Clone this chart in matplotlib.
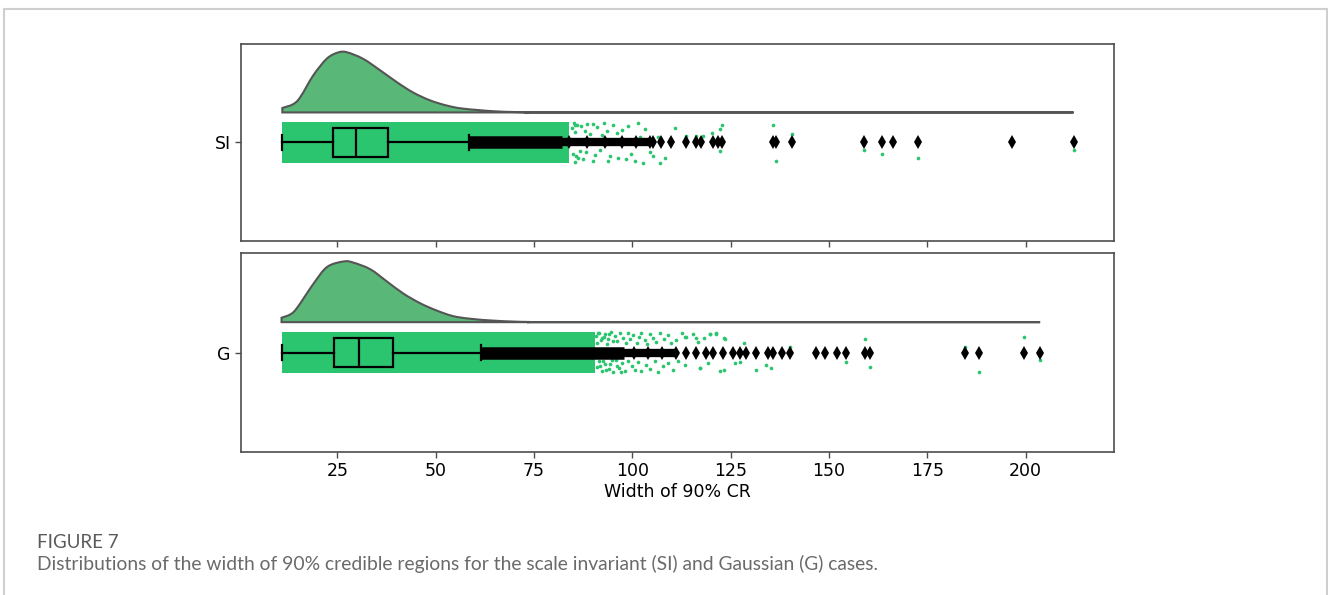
import numpy as np
import matplotlib.pyplot as plt
from matplotlib.patches import Rectangle, PathPatch
from matplotlib.path import Path

# ---- data ----
labels = ['SI', 'G']

# half-violin (relative density, peak = 1)
kde_x_si = [11.0, 14.8, 18.9, 22.4, 25.3, 27.5, 31.6, 35.9, 40.2, 44.3, 48.6, 52.8, 57.0, 65.5, 74.0, 90.0, 212.2]
kde_d_si = [0.074, 0.19, 0.62, 0.90, 1.0, 1.0, 0.89, 0.70, 0.50, 0.33, 0.20, 0.115, 0.063, 0.017, 0.003, 0.0, 0.0]
kde_x_g = [10.8, 13.1, 14.8, 19.0, 22.4, 26.6, 29.1, 33.4, 37.6, 41.8, 46.1, 50.3, 54.4, 58.8, 65.5, 74.0, 90.0, 203.7]
kde_d_g = [0.073, 0.13, 0.24, 0.64, 0.91, 1.0, 0.98, 0.87, 0.67, 0.47, 0.31, 0.19, 0.10, 0.056, 0.022, 0.003, 0.0, 0.0]

# box statistics
box_si = dict(whislo=11.0, q1=23.8, med=29.8, q3=37.8, whishi=58.5)
box_g = dict(whislo=10.8, q1=24.2, med=30.6, q3=39.1, whishi=61.5)

# crowded flier runs (start, end) and the single fliers beyond them
flier_runs_si = [(58.5, 82.0), (82.0, 104.4)]
fliers_si = [84.0, 88.5, 93.0, 97.5, 101.0, 104.4, 105.3, 107.4, 109.9, 113.7, 116.3, 117.5,
             120.5, 121.8, 122.9, 135.7, 136.6, 140.6, 158.8, 163.4, 166.3, 172.7, 196.6, 212.2]
flier_runs_g = [(61.5, 98.0), (98.0, 111.2)]
fliers_g = [100.5, 104.0, 107.5, 111.2, 113.7, 116.3, 118.8, 120.5, 123.0, 125.6, 127.3, 129.0,
            131.5, 134.5, 135.7, 138.1, 140.2, 146.6, 149.0, 152.1, 154.4, 159.2, 160.5,
            184.7, 188.1, 199.5, 203.7]

# rain: solid block of points plus the sparse points in its tail
rain_block_si = (11.0, 84.0)
rain_x_si = [84.6, 85.1, 85.5, 86.0, 84.8, 85.3, 86.2, 86.8,
             85.4, 86.9, 88.4, 89.9, 85.8, 87.4, 90.1, 92.2, 93.5, 95.1, 97.3, 99.0, 101.5,
             94.3, 93.9, 96.4, 98.5, 100.6, 102.7, 101.9, 104.4, 105.3, 107.0, 108.2, 106.6,
             110.8, 113.7, 116.3, 118.0, 120.3, 122.2, 122.9, 122.2,
             87.9, 89.2, 91.0, 92.8, 88.1, 90.6, 91.7, 96.0, 99.6, 103.3,
             135.7, 136.6, 140.6, 158.8, 163.4, 172.7, 212.2]
rain_y_si = [0.15, 0.20, 0.11, 0.18, -0.12, -0.20, -0.16, -0.09,
             0.18, 0.17, 0.19, 0.19, -0.14, -0.17, -0.19, 0.08, 0.12, 0.18, 0.13, 0.17, 0.20,
             -0.14, -0.19, -0.16, -0.17, -0.19, -0.21, 0.06, -0.10, -0.14, -0.21, -0.16, 0.06,
             0.15, 0.07, 0.07, 0.07, 0.10, 0.14, 0.18, -0.09,
             0.12, 0.09, 0.16, 0.20, -0.10, -0.13, -0.08, 0.10, -0.12, 0.14,
             0.18, -0.19, 0.09, -0.08, -0.12, -0.16, -0.08]
rain_block_g = (10.8, 90.5)
rain_x_g = [91.3, 92.2, 93.0, 93.9, 94.7, 95.6, 96.1, 96.8, 97.7, 98.3, 98.9, 99.5, 100.2,
            101.1, 101.7, 102.3, 103.2, 103.8, 104.4, 105.3, 106.1, 107.0, 108.0, 109.1,
            109.9, 111.2, 112.7, 113.7, 115.4, 116.7, 118.1, 119.7, 121.4, 123.5,
            91.7, 92.6, 93.4, 94.3, 95.0, 95.8, 96.7, 97.5, 98.1, 98.9, 99.8, 100.6, 101.5,
            102.3, 103.4, 104.4, 105.7, 106.6, 107.8, 109.1, 110.4, 111.6, 113.3, 117.1, 122.2,
            117.1, 119.2, 123.2, 126.0, 127.3, 123.3, 121.4, 119.7, 116.3, 113.3,
            90.8, 91.1, 91.6, 92.0, 92.9, 93.6, 94.1, 95.2, 90.9, 91.4, 92.3, 93.1, 94.0, 94.9, 96.2, 97.1,
            128.5, 131.5, 134.0, 135.2, 140.2, 154.4, 159.1, 160.5, 184.7, 188.1, 199.5, 203.7]
rain_y_g = [0.20, 0.149, 0.183, 0.132, 0.206, 0.166, 0.115, 0.193, 0.149, 0.098, 0.20, 0.132, 0.173,
            0.098, 0.159, 0.20, 0.125, 0.081, 0.183, 0.149, 0.105, 0.20, 0.139, 0.173,
            0.091, 0.125, 0.20, 0.159, 0.183, 0.105, 0.149, 0.183, 0.193, 0.132,
            -0.139, -0.088, -0.173, -0.112, -0.20, -0.071, -0.156, -0.105, -0.19, -0.088, -0.139, -0.173, -0.098,
            -0.19, -0.122, -0.166, -0.088, -0.20, -0.139, -0.105, -0.173, -0.088, -0.122, -0.156, -0.19,
            -0.16, -0.11, -0.18, -0.11, -0.10, 0.15, 0.19, 0.19, 0.15, 0.16,
            0.17, 0.10, 0.20, 0.13, 0.16, 0.09, 0.19, 0.12, -0.15, -0.09, -0.19, -0.12, -0.17, -0.08, -0.14, -0.20,
            0.10, -0.18, -0.13, -0.16, 0.06, -0.10, 0.14, -0.15, 0.06, -0.20, 0.16, -0.08]

panels = [
    (labels[0], kde_x_si, kde_d_si, box_si, flier_runs_si, fliers_si, rain_block_si, rain_x_si, rain_y_si),
    (labels[1], kde_x_g, kde_d_g, box_g, flier_runs_g, fliers_g, rain_block_g, rain_x_g, rain_y_g),
]

# ---- styling ----
rain_col = '#2cc56f'
kde_col = '#59b878'
edge_col = '#555555'
spine_col = '#4d4d4d'


def smooth_path(xs, ys, base):
    # closed outline: base -> first point, Catmull-Rom curve through points, back along base
    pts = np.column_stack([xs, ys])
    verts = [(xs[0], base), tuple(pts[0])]
    codes = [Path.MOVETO, Path.LINETO]
    n = len(pts)
    for k in range(n - 1):
        p0 = pts[max(k - 1, 0)]
        p1 = pts[k]
        p2 = pts[k + 1]
        p3 = pts[min(k + 2, n - 1)]
        c1 = p1 + (p2 - p0) / 6.0
        c2 = p2 - (p3 - p1) / 6.0
        verts += [tuple(c1), tuple(c2), tuple(p2)]
        codes += [Path.CURVE4] * 3
    verts += [(xs[-1], base), (xs[0], base)]
    codes += [Path.LINETO, Path.CLOSEPOLY]
    return Path(verts, codes)


fig = plt.figure(figsize=(13.28, 5.95), dpi=100)
fig.patches.append(Rectangle((4 / 1328, -0.1), 1323 / 1328, (595 - 9) / 595 + 0.1,
                             transform=fig.transFigure, fill=False,
                             edgecolor='#cfcfcf', lw=1.5))

ax_pos = [[0.1815, 0.5950, 0.6574, 0.3311], [0.1815, 0.2403, 0.6574, 0.3345]]
axes = []
for i, (lab, kx, kd, bs, runs, fl, block, rx, ry) in enumerate(panels):
    ax = fig.add_axes(ax_pos[i])
    axes.append(ax)

    # cloud
    base = 0.305
    ky = base + 0.61 * np.array(kd)
    ax.add_patch(PathPatch(smooth_path(np.array(kx), ky, base), facecolor=kde_col,
                           edgecolor=edge_col, lw=1.5, zorder=2))

    # rain
    ax.barh(0, block[1] - block[0], left=block[0], height=0.42, color=rain_col, lw=0, zorder=1)
    ax.scatter(rx, ry, s=7, color=rain_col, lw=0, zorder=1)

    # box
    stats = dict(bs)
    stats['fliers'] = []
    ax.bxp([stats], positions=[0], widths=0.30, orientation='horizontal',
           patch_artist=True, capwidths=0.16, showfliers=False,
           boxprops=dict(facecolor=rain_col, edgecolor='black', lw=1.6),
           whiskerprops=dict(color='black', lw=1.6),
           capprops=dict(color='black', lw=1.6),
           medianprops=dict(color='black', lw=1.6))
    for j, (a, b) in enumerate(runs):
        ax.plot([a, b], [0, 0], color='black', lw=9.0 if j == 0 else 6.0,
                solid_capstyle='butt', zorder=4)
    ax.plot(fl, np.zeros(len(fl)), 'd', color='black', ms=7, mew=0, zorder=4)

    ax.set_xlim(0.5, 222.5)
    ax.set_ylim(-1, 1)
    ax.set_yticks([0])
    ax.set_yticklabels([lab])
    ax.set_xticks([25, 50, 75, 100, 125, 150, 175, 200])
    for s in ax.spines.values():
        s.set_color(spine_col)
        s.set_linewidth(1.2)
    ax.tick_params(colors=spine_col, labelcolor='black', labelsize=12.5, width=1, length=4)
    if i == 0:
        ax.tick_params(labelbottom=False)

axes[1].set_xlabel('Width of 90% CR', fontsize=12.5, labelpad=2)

fig.text(37 / 1328, 1 - 542 / 595, 'FIGURE 7', family='Lato', fontsize=13.5,
         color='#5a5a5a', va='center', ha='left')
fig.text(37 / 1328, 1 - 564 / 595,
         'Distributions of the width of 90% credible regions for the scale invariant (SI) and Gaussian (G) cases.',
         family='Lato', fontsize=13.9, color='#6a6a6a', va='center', ha='left')

fig.savefig('out.png', dpi=100)
